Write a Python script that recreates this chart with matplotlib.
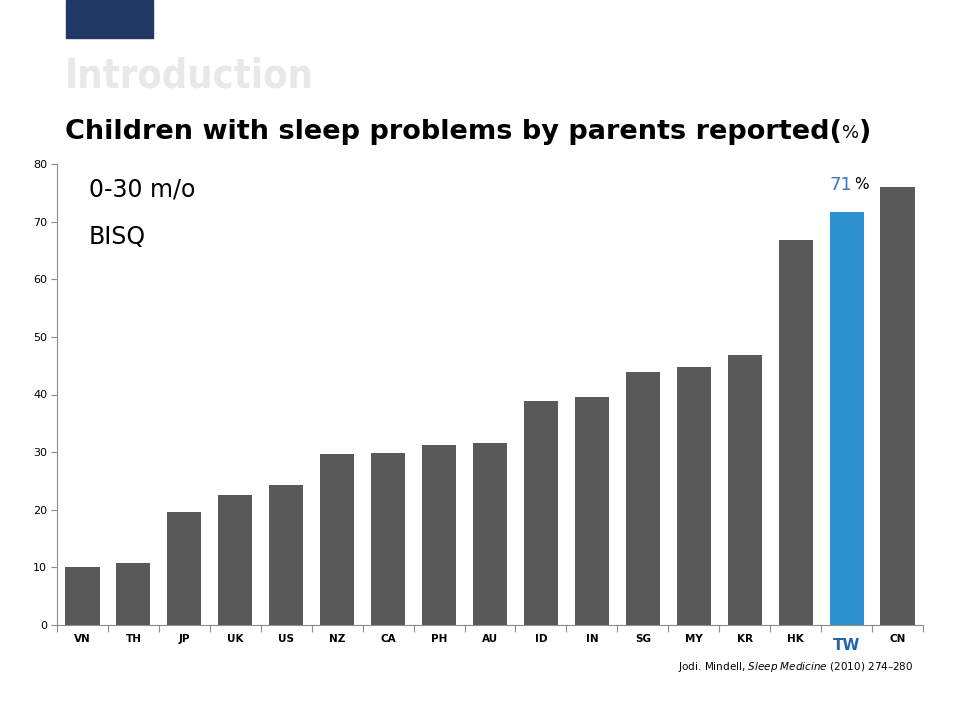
import matplotlib.pyplot as plt
from matplotlib.patches import Rectangle

countries = ["VN", "TH", "JP", "UK", "US", "NZ", "CA", "PH", "AU",
             "ID", "IN", "SG", "MY", "KR", "HK", "TW", "CN"]
percent = [10.1, 10.8, 19.6, 22.6, 24.3, 29.7, 29.8, 31.2, 31.6,
           38.9, 39.6, 43.9, 44.8, 46.9, 66.8, 71.7, 76.0]
highlight = "TW"
y_ticks = [0, 10, 20, 30, 40, 50, 60, 70, 80]

grey_bar = "#595959"
blue_bar = "#2e92d0"
axis_grey = "#8c8c8c"

fig = plt.figure(figsize=(9.6, 7.2), dpi=100)
fig.patch.set_facecolor("white")

# slide decoration
fig.patches.append(Rectangle((66 / 960, 1 - 38 / 720), 87 / 960, 38 / 720,
                             transform=fig.transFigure, color="#203864"))
fig.text(65 / 960, 1 - 77 / 720, "Introduction", fontsize=28.5, weight="bold",
         color="#e8e8e8", va="center", ha="left", fontstretch="condensed")
title = fig.text(65 / 960, 1 - 132 / 720,
                 "Children with sleep problems by parents reported(",
                 fontsize=19.5, weight="bold", color="black", va="center", ha="left")

ax = fig.add_axes([57 / 960, 1 - 625 / 720, 866 / 960, 461 / 720])

x = list(range(len(countries)))
colors = [blue_bar if c == highlight else grey_bar for c in countries]
ax.bar(x, percent, width=0.67, color=colors, zorder=2)

ax.set_xlim(-0.5, len(countries) - 0.5)
ax.set_ylim(0, 80)
ax.set_yticks(y_ticks)
ax.tick_params(axis="y", labelsize=8, length=4, color=axis_grey, pad=3)

# ticks sit between the categories, labels drawn as text
ax.set_xticks([i - 0.5 for i in range(len(countries) + 1)])
ax.set_xticklabels([])
ax.tick_params(axis="x", length=5, color=axis_grey)
for i, c in enumerate(countries):
    if c == highlight:
        ax.text(i, -3.6, c, fontsize=11, weight="bold", color="#1f66b0",
                ha="center", va="center")
    else:
        ax.text(i, -2.5, c, fontsize=7.5, weight="bold", color="black",
                ha="center", va="center")

for side in ["top", "right"]:
    ax.spines[side].set_visible(False)
for side in ["left", "bottom"]:
    ax.spines[side].set_color(axis_grey)

ax.text(0.13, 75.5, "0-30 m/o", fontsize=17, ha="left", va="center")
ax.text(0.13, 67.3, "BISQ", fontsize=17, ha="left", va="center")

# 71% label above the highlighted bar
t_idx = countries.index(highlight)
ax.text(t_idx + 0.12, 76.4, "71", fontsize=13, color="#4472c4", ha="right", va="center")
ax.text(t_idx + 0.14, 76.4, "%", fontsize=11, color="black", ha="left", va="center")

fig.text(913 / 960, 1 - 667 / 720,
         r"Jodi. Mindell, $\it{Sleep\ Medicine}$ (2010) 274–280",
         fontsize=7.5, ha="right", va="center")

# finish the title: small percent sign, then closing bracket
fig.canvas.draw()
x_end = title.get_window_extent().x1 / fig.bbox.width
pct = fig.text(x_end, 1 - 133 / 720, "%", fontsize=13, va="center", ha="left")
fig.canvas.draw()
x_end = pct.get_window_extent().x1 / fig.bbox.width
fig.text(x_end, 1 - 132 / 720, ")", fontsize=19.5, weight="bold",
         va="center", ha="left")

fig.savefig("out.png", dpi=100, facecolor="white")
plt.close(fig)
